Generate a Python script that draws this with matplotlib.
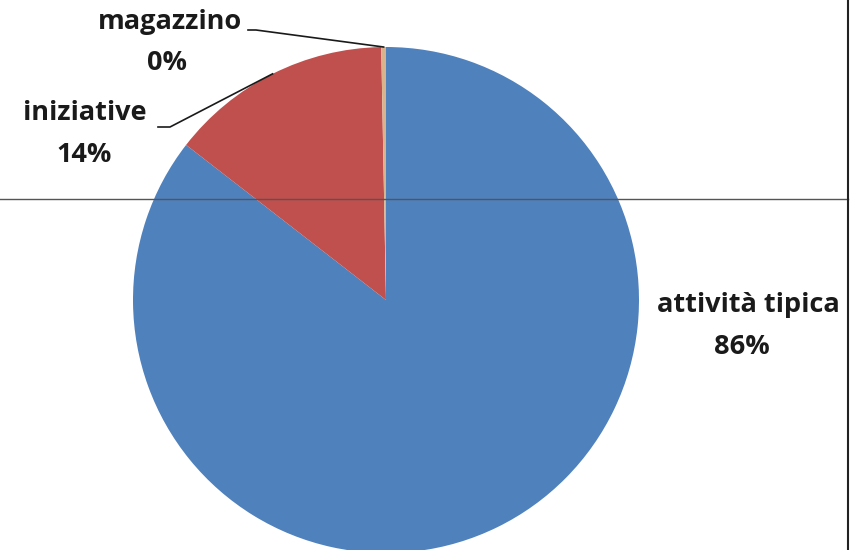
import numpy as np
import matplotlib
matplotlib.use("Agg")
from matplotlib import pyplot as plt

categories = ["attività tipica", "iniziative", "magazzino"]
values = [85.5, 14.2, 0.3]
colors = ["#4F81BD", "#C0504D", "#D9B38C"]

W, H = 863, 550
fig = plt.figure(figsize=(W / 100, H / 100), dpi=100)
ax = fig.add_axes([0, 0, 1, 1])

cx, cy, r = 386, H - 300, 253
wedges, _ = ax.pie(values, colors=colors, startangle=90, counterclock=False,
                   center=(cx, cy), radius=r,
                   wedgeprops=dict(linewidth=0))
ax.set_xlim(0, W)
ax.set_ylim(0, H)
ax.set_aspect("equal")
ax.axis("off")

total = sum(values)
pcts = ["%d%%" % round(v / total * 100) for v in values]

font = dict(family=["Open Sans", "DejaVu Sans"], fontsize=19.5, fontweight="bold",
            color="#1a1a1a", ha="center", va="center")

# label positions (pixels from top-left): name, then percentage
label_pos = {
    "attività tipica": ((748, 305), (742, 347)),
    "iniziative": ((85, 113), (84, 155)),
    "magazzino": ((170, 22), (167, 63)),
}
leaders = {
    "iniziative": [(158, 127), (170, 127)],
    "magazzino": [(248, 30), (256, 30)],
}

for w, name, p in zip(wedges, categories, pcts):
    (x, y), (px_, py_) = label_pos[name]
    ax.text(x, H - y, name, **font)
    ax.text(px_, H - py_, p, **font)
    if name in leaders:
        ang = np.deg2rad((w.theta1 + w.theta2) / 2)
        ex = cx + r * np.cos(ang)
        ey = cy + r * np.sin(ang)
        pts = [(px, H - py) for px, py in leaders[name]] + [(ex, ey)]
        xs, ys = zip(*pts)
        ax.plot(xs, ys, color="#1a1a1a", linewidth=1.2)

# scan artefacts: horizontal rule and right border
ax.plot([0, 848], [H - 199, H - 199], color="#555555", linewidth=1)
ax.plot([848, 848], [0, H], color="#222222", linewidth=1.5)

fig.savefig("out.png", dpi=100, facecolor="white")
